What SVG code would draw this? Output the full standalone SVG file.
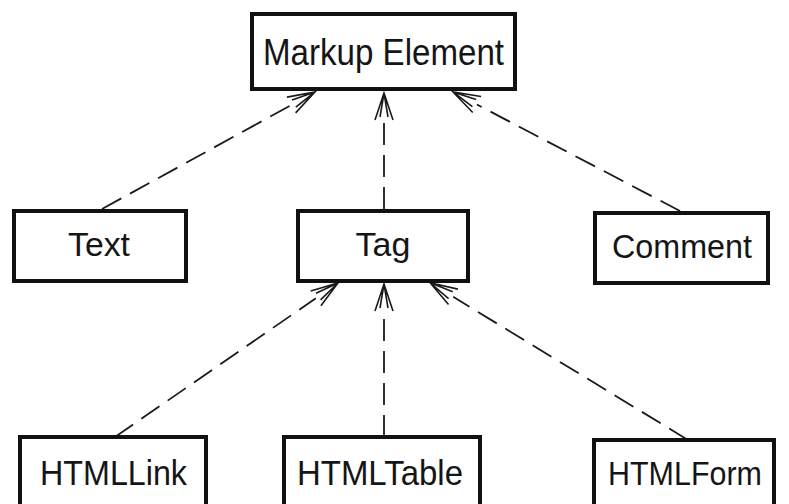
<svg xmlns="http://www.w3.org/2000/svg" width="789" height="504" viewBox="0 0 789 504">
  <style>
    .box { fill: #ffffff; stroke: #111111; stroke-width: 4; }
    .lbl { font-family: "Liberation Sans", Arial, sans-serif; fill: #151515; }
    .dep { fill: none; stroke: #1a1a1a; stroke-width: 1.8; stroke-dasharray: 22 10; }
    .head { fill: none; stroke: #1a1a1a; stroke-width: 1.6; }
  </style>
  <defs>
    <marker id="open" markerUnits="userSpaceOnUse" markerWidth="40" markerHeight="30" refX="0" refY="15" orient="auto" overflow="visible">
      <g transform="translate(0,15)">
        <path class="head" d="M0,-9 L27,0 L0,9 M3,-4 L27,0 L3,4"/>
      </g>
    </marker>
  </defs>
  <rect width="789" height="504" fill="#ffffff"/>

  <g id="connectors">
    <line class="dep" x1="102" y1="209" x2="291.3" y2="105" marker-end="url(#open)"/>
    <line class="dep" x1="384" y1="209" x2="384" y2="120" marker-end="url(#open)"/>
    <line class="dep" x1="680" y1="211" x2="476.9" y2="104.5" marker-end="url(#open)"/>
    <line class="dep" x1="115" y1="437" x2="315.8" y2="298.3" marker-end="url(#open)"/>
    <line class="dep" x1="384" y1="437" x2="384" y2="311" marker-end="url(#open)"/>
    <line class="dep" x1="688" y1="440" x2="453.2" y2="296.8" marker-end="url(#open)"/>
  </g>

  <g id="markup-element">
    <rect class="box" x="252" y="14" width="263" height="75"/>
    <text class="lbl" x="263" y="65" font-size="36" textLength="241" lengthAdjust="spacingAndGlyphs">Markup Element</text>
  </g>
  <g id="text">
    <rect class="box" x="14" y="211" width="172" height="70"/>
    <text class="lbl" x="68" y="256" font-size="33" textLength="62" lengthAdjust="spacingAndGlyphs">Text</text>
  </g>
  <g id="tag">
    <rect class="box" x="298" y="211" width="170" height="70"/>
    <text class="lbl" x="383" y="256" font-size="34" text-anchor="middle">Tag</text>
  </g>
  <g id="comment">
    <rect class="box" x="595" y="213" width="173" height="70"/>
    <text class="lbl" x="612" y="258" font-size="34" textLength="140" lengthAdjust="spacingAndGlyphs">Comment</text>
  </g>
  <g id="htmllink">
    <rect class="box" x="20" y="437" width="186" height="72"/>
    <text class="lbl" x="40" y="485" font-size="35" textLength="147" lengthAdjust="spacingAndGlyphs">HTMLLink</text>
  </g>
  <g id="htmltable">
    <rect class="box" x="284" y="437" width="196" height="72"/>
    <text class="lbl" x="297" y="485" font-size="35" textLength="166" lengthAdjust="spacingAndGlyphs">HTMLTable</text>
  </g>
  <g id="htmlform">
    <rect class="box" x="594" y="440" width="180" height="72"/>
    <text class="lbl" x="608" y="485" font-size="34" textLength="154" lengthAdjust="spacingAndGlyphs">HTMLForm</text>
  </g>
</svg>
